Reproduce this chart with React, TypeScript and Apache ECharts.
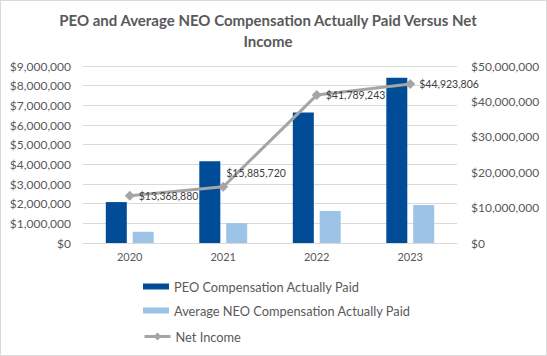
import React, { useEffect, useRef } from "react";
import * as echarts from "echarts";

const years = ["2020", "2021", "2022", "2023"];
const peoCap = [2080000, 4160000, 6630000, 8400000];
const neoCap = [570000, 1010000, 1630000, 1930000];
const netIncome = [13368880, 15885720, 41789243, 44923806];
const labelOffsets = [[0, 0], [-6, -14], [0, 0], [0, 0]];

const FONT = "Lato";
const fmt = (v: number) => "$" + Math.round(v).toLocaleString("en-US");

export default function App() {
  const ref = useRef<HTMLDivElement>(null);
  useEffect(() => {
    if (!ref.current) return;
    const chart = echarts.init(ref.current, null, { renderer: "svg" });
    const legendText = { fontFamily: FONT, fontSize: 12.8, color: "#595959" };
    chart.setOption({
      animation: false,
      backgroundColor: "#ffffff",
      textStyle: { fontFamily: FONT },
      title: {
        text: "PEO and Average NEO Compensation Actually Paid Versus Net\nIncome",
        left: 262,
        top: 3,
        textAlign: "center",
        textStyle: { fontFamily: FONT, fontSize: 15, fontWeight: "bold", color: "#595959", lineHeight: 21 },
      },
      grid: { left: 82, right: 89, top: 65, bottom: 112, containLabel: false },
      legend: [
        {
          orient: "vertical",
          left: 142,
          top: 279,
          padding: 0,
          itemGap: 11,
          itemWidth: 26,
          itemHeight: 6,
          textStyle: legendText,
          data: [
            { name: "PEO Compensation Actually Paid", icon: "rect" },
            { name: "Average NEO Compensation Actually Paid", icon: "rect" },
          ],
        },
        {
          orient: "vertical",
          left: 142,
          top: 329,
          padding: 0,
          itemWidth: 26,
          itemHeight: 10,
          textStyle: legendText,
          lineStyle: { width: 3 },
          data: [{ name: "Net Income" }],
        },
      ],
      xAxis: {
        type: "category",
        data: years,
        axisLine: { lineStyle: { color: "#D9D9D9" } },
        axisTick: { show: false },
        axisLabel: { color: "#595959", fontSize: 11, margin: 8, fontFamily: FONT },
      },
      yAxis: [
        {
          type: "value",
          min: 0,
          max: 9000000,
          interval: 1000000,
          axisLine: { show: false },
          axisTick: { show: false },
          splitLine: { lineStyle: { color: "#D9D9D9" } },
          axisLabel: { color: "#595959", fontSize: 12, margin: 12, formatter: fmt, fontFamily: FONT },
        },
        {
          type: "value",
          min: 0,
          max: 50000000,
          interval: 10000000,
          axisLine: { show: false },
          axisTick: { show: false },
          splitLine: { show: false },
          axisLabel: { color: "#595959", fontSize: 12, margin: 14, formatter: fmt, fontFamily: FONT },
        },
      ],
      series: [
        {
          name: "PEO Compensation Actually Paid",
          type: "bar",
          data: peoCap,
          barWidth: 21,
          barGap: "28%",
          itemStyle: { color: "#004C97" },
        },
        {
          name: "Average NEO Compensation Actually Paid",
          type: "bar",
          data: neoCap,
          barWidth: 21,
          barGap: "28%",
          itemStyle: { color: "#9DC3E6" },
        },
        {
          name: "Net Income",
          type: "line",
          yAxisIndex: 1,
          data: netIncome.map((v, i) => ({
            value: v,
            label: { offset: labelOffsets[i] },
          })),
          symbol: "diamond",
          symbolSize: 10,
          lineStyle: { color: "#A5A5A5", width: 3 },
          itemStyle: { color: "#A5A5A5" },
          label: {
            show: true,
            position: "right",
            distance: 4,
            color: "#404040",
            fontSize: 10.5,
            fontFamily: FONT,
            formatter: (p: any) => fmt(p.value),
          },
          z: 5,
        },
      ],
    });
    return () => chart.dispose();
  }, []);
  return (
    <div
      style={{
        position: "fixed",
        left: 0,
        top: 0,
        width: 547,
        height: 356,
        boxSizing: "border-box",
        border: "1px solid #D9D9D9",
        background: "#fff",
      }}
    >
      <div ref={ref} style={{ width: 545, height: 354 }} />
    </div>
  );
}
